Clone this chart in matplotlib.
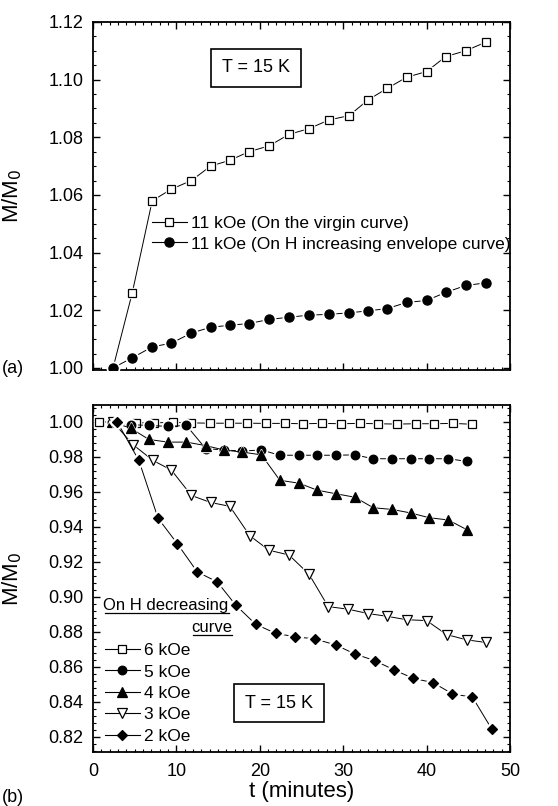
import numpy as np
import matplotlib
matplotlib.use("Agg")
import matplotlib.pyplot as plt
from matplotlib.lines import Line2D
from matplotlib.ticker import MultipleLocator

plt.rcParams['font.family'] = ['Liberation Sans', 'DejaVu Sans']

# ---- panel (a): 11 kOe at T = 15 K
t_a = [2.4, 4.7, 7.1, 9.4, 11.8, 14.1, 16.4, 18.7, 21.1, 23.5,
       25.9, 28.3, 30.7, 33.0, 35.3, 37.6, 40.0, 42.3, 44.7, 47.1]
m_virgin = [1.000, 1.026, 1.058, 1.062, 1.065, 1.070, 1.072, 1.075, 1.077, 1.081,
            1.083, 1.086, 1.0875, 1.093, 1.097, 1.1008, 1.1028, 1.108, 1.110, 1.113]
m_envelope = [1.000, 1.0035, 1.0073, 1.0086, 1.0121, 1.0141, 1.0148, 1.0154, 1.0168, 1.0176,
              1.0183, 1.0186, 1.0191, 1.0198, 1.0206, 1.0227, 1.0234, 1.0262, 1.0286, 1.0295]

# ---- panel (b): H decreasing curve
t_6 = [0.7, 2.9, 5.1, 7.3, 9.6, 11.8, 14.0, 16.3, 18.5, 20.8, 23.0,
       25.2, 27.5, 29.7, 32.0, 34.2, 36.4, 38.7, 40.9, 43.2, 45.4]
m_6 = [1.000, 1.000, 0.9995, 0.9995, 0.9998, 0.9995, 0.9993, 0.9993, 0.9993, 0.9992, 0.9992,
       0.999, 0.9992, 0.999, 0.9992, 0.999, 0.9988, 0.999, 0.999, 0.9992, 0.9987]
t_54 = [2.3, 4.5, 6.7, 9.0, 11.2, 13.5, 15.7, 17.9, 20.2, 22.4,
        24.7, 26.9, 29.1, 31.4, 33.6, 35.9, 38.1, 40.3, 42.6, 44.8]
m_5 = [1.000, 0.9985, 0.998, 0.9975, 0.998, 0.9848, 0.984, 0.9834, 0.984, 0.981,
       0.981, 0.981, 0.981, 0.9812, 0.979, 0.979, 0.979, 0.979, 0.979, 0.9775]
m_4 = [1.000, 0.9965, 0.990, 0.9885, 0.9885, 0.9865, 0.984, 0.9828, 0.9812, 0.9667,
       0.965, 0.961, 0.959, 0.957, 0.951, 0.950, 0.948, 0.9453, 0.944, 0.9385]
t_3 = [2.4, 4.8, 7.2, 9.4, 11.8, 14.1, 16.4, 18.8, 21.1, 23.5,
       25.9, 28.2, 30.6, 33.0, 35.2, 37.6, 40.0, 42.4, 44.8, 47.1]
m_3 = [1.000, 0.987, 0.978, 0.9725, 0.958, 0.954, 0.9518, 0.935, 0.9267, 0.924,
       0.913, 0.8945, 0.893, 0.8905, 0.889, 0.887, 0.8865, 0.8785, 0.8755, 0.874]
t_2 = [2.9, 5.5, 7.8, 10.1, 12.5, 14.9, 17.1, 19.5, 21.9, 24.2,
       26.6, 29.1, 31.4, 33.8, 36.1, 38.4, 40.8, 43.1, 45.5, 47.8]
m_2 = [1.000, 0.978, 0.945, 0.9305, 0.9143, 0.9086, 0.8954, 0.8844, 0.8792, 0.8773,
       0.876, 0.8726, 0.8674, 0.8636, 0.8583, 0.8535, 0.851, 0.8446, 0.8427, 0.8246]

labels_a = ['11 kOe (On the virgin curve)', '11 kOe (On H increasing envelope curve)']
labels_b = ['6 kOe', '5 kOe', '4 kOe', '3 kOe', '2 kOe']
x_ticks = [0, 10, 20, 30, 40, 50]

W, H = 558, 806


def series(ax, t, m, marker, fill, ms, z):
    # line with small gaps around the symbols, like the original plot
    ax.plot(t, m, '-', color='black', lw=0.7, zorder=z)
    ax.plot(t, m, ls='none', marker=marker, ms=ms + 2.4, mfc='white', mec='white', zorder=z + 0.1)
    ax.plot(t, m, ls='none', marker=marker, ms=ms, mfc=fill, mec='black', mew=0.9, zorder=z + 0.2)
    return Line2D([], [], color='black', lw=0.8, marker=marker, ms=ms, mfc=fill, mec='black', mew=0.9)


def style(ax, ymin, ymax, ymaj, ymin_step):
    ax.set_xlim(0, 50)
    ax.set_ylim(ymin, ymax)
    ax.set_xticks(x_ticks)
    ax.xaxis.set_minor_locator(MultipleLocator(1))
    ax.yaxis.set_major_locator(MultipleLocator(ymaj))
    ax.yaxis.set_minor_locator(MultipleLocator(ymin_step))
    ax.yaxis.set_major_formatter(plt.FormatStrFormatter('%.2f'))
    ax.tick_params(which='both', direction='in', top=True, right=True, labelsize=13)
    ax.tick_params(axis='y', pad=7)
    ax.tick_params(axis='x', pad=8)
    ax.tick_params(which='major', length=5, width=1.0)
    ax.tick_params(which='minor', length=2.5, width=0.8)
    for s in ax.spines.values():
        s.set_linewidth(1.3)
    ax.set_ylabel('M/M$_0$', fontsize=16)
    ax.yaxis.set_label_coords(-0.165, 0.5)


fig = plt.figure(figsize=(W / 100, H / 100), dpi=100)
ax1 = fig.add_axes([0.1667, 0.541, 0.7473, 0.4318])
ax2 = fig.add_axes([0.1667, 0.067, 0.7473, 0.4305])

# ---- (a)
h1 = series(ax1, t_a, m_virgin, 's', 'white', 5.2, 3)
h2 = series(ax1, t_a, m_envelope, 'o', 'black', 6.6, 4)
style(ax1, 0.9993, 1.12, 0.02, 0.005)
ax1.tick_params(labelbottom=False)
ax1.legend([h1, h2], labels_a, loc='upper left', bbox_to_anchor=(152 / W, 1 - 216 / H),
           bbox_transform=fig.transFigure, frameon=False, fontsize=12.5, handlelength=2.0,
           handletextpad=0.25, labelspacing=0.3, borderpad=0, borderaxespad=0)
ax1.text(0.391, 0.868, 'T = 15 K', transform=ax1.transAxes, ha='center', va='center', fontsize=13,
         bbox=dict(boxstyle='square,pad=0.6', fc='white', ec='black', lw=1.2))

# ---- (b)
hb = []
hb.append(series(ax2, t_6, m_6, 's', 'white', 5.2, 3))
hb.append(series(ax2, t_54, m_5, 'o', 'black', 6.2, 4))
hb.append(series(ax2, t_54, m_4, '^', 'black', 6.6, 5))
hb.append(series(ax2, t_3, m_3, 'v', 'white', 6.6, 6))
hb.append(series(ax2, t_2, m_2, 'D', 'black', 5.4, 7))
style(ax2, 0.8114, 1.0097, 0.02, 0.004)
ax2.set_xlabel('t (minutes)', fontsize=16)
ax2.xaxis.set_label_coords(0.5, -0.083)

ax2.legend(hb, labels_b, loc='upper left', bbox_to_anchor=(105 / W, 1 - 643 / H),
           bbox_transform=fig.transFigure, frameon=False, fontsize=12.5, handlelength=2.0,
           handletextpad=0.25, labelspacing=0.36, borderpad=0, borderaxespad=0)
# underlined legend title
fig.text(228 / W, 1 - 610 / H, 'On H decreasing', fontsize=12, ha='right', va='baseline')
fig.add_artist(Line2D([105 / W, 229 / W], [1 - 613 / H] * 2, color='black', lw=0.9))
fig.text(232 / W, 1 - 632 / H, 'curve', fontsize=12, ha='right', va='baseline')
fig.add_artist(Line2D([193 / W, 232 / W], [1 - 635 / H] * 2, color='black', lw=0.9))

ax2.text(0.446, 0.141, 'T = 15 K', transform=ax2.transAxes, ha='center', va='center', fontsize=13,
         bbox=dict(boxstyle='square,pad=0.6', fc='white', ec='black', lw=1.2))

fig.text(0.004, 1 - 369 / H, '(a)', fontsize=13, va='center')
fig.text(0.004, 1 - 797 / H, '(b)', fontsize=13, va='center')

fig.savefig('out.png', dpi=100)
